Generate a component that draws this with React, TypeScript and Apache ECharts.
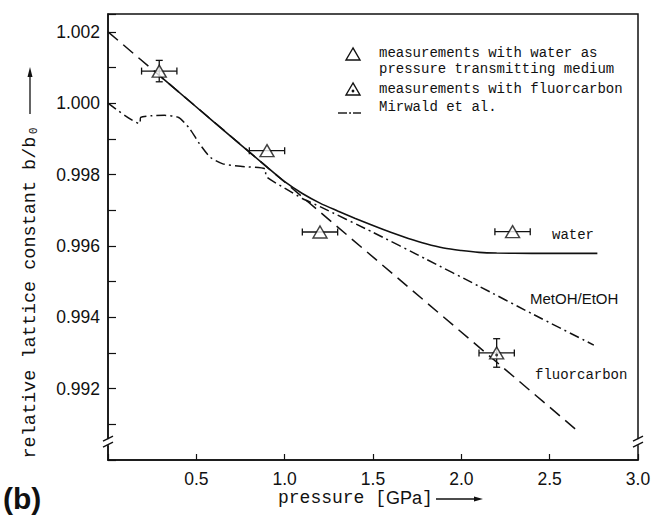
import React, { useEffect, useRef } from 'react';
import * as echarts from 'echarts';

// Fluorcarbon fit (dashed straight line)
const fluorLineX = [0, 2.645];
const fluorLineY = [1.002, 0.99087];

// Water curve (solid)
const waterCurveX = [0.3, 0.6, 0.9, 1.0, 1.1, 1.2, 1.3, 1.4, 1.5, 1.6, 1.7, 1.8, 1.9, 2.0, 2.1, 2.2, 2.4, 2.6, 2.77];
const waterCurveY = [1.00074, 0.99947, 0.99821, 0.9978, 0.99747, 0.9972, 0.99698, 0.99677, 0.99657, 0.99638, 0.99621, 0.99606, 0.99594, 0.99587, 0.99582, 0.9958, 0.99579, 0.99579, 0.99579];

// Mirwald et al. / MetOH-EtOH (dash-dot)
const mirwaldX = [0, 0.18, 0.185, 0.25, 0.32, 0.4, 0.46, 0.52, 0.58, 0.65, 0.75, 0.89, 0.895, 1.0, 1.1, 1.2, 1.5, 1.8, 2.1, 2.4, 2.75];
const mirwaldY = [1.0, 0.99943, 0.9996, 0.99965, 0.99966, 0.9996, 0.9993, 0.99885, 0.99848, 0.9983, 0.99823, 0.99816, 0.99795, 0.99762, 0.99733, 0.9971, 0.99638, 0.99563, 0.99487, 0.9941, 0.99322];

// Measurements with water
const waterPtsX = [0.29, 0.9, 1.2, 2.29];
const waterPtsY = [1.0009, 0.99867, 0.99639, 0.9964];
const waterErrX = [0.1, 0.1, 0.1, 0.1];
const waterErrY = [0.0003, 0, 0, 0];

// Measurements with fluorcarbon
const fluorPtsX = [2.2];
const fluorPtsY = [0.993];
const fluorErrX = [0.1];
const fluorErrY = [0.0004];

const xTicks = [0.5, 1.0, 1.5, 2.0, 2.5, 3.0];

const MONO = '"Liberation Mono", "DejaVu Sans Mono", monospace';
const SANS = '"Liberation Sans", Arial, sans-serif';
const INK = '#111';

export default function App() {
  const ref = useRef<HTMLDivElement>(null);

  useEffect(() => {
    if (!ref.current) return;
    const chart = echarts.init(ref.current, undefined, { renderer: 'svg' });

    const pairs = (xs: number[], ys: number[]) => xs.map((x, i) => [x, ys[i]]);
    const errData = [
      ...waterPtsX.map((x, i) => [x, waterPtsY[i], waterErrX[i], waterErrY[i]]),
      ...fluorPtsX.map((x, i) => [x, fluorPtsY[i], fluorErrX[i], fluorErrY[i]]),
    ];

    chart.setOption({
      animation: false,
      backgroundColor: '#fff',
      grid: { left: 108, right: 16, top: 14, bottom: 56, show: true, borderColor: INK, borderWidth: 1.5, backgroundColor: 'transparent' },
      xAxis: {
        type: 'value', min: 0, max: 3, interval: 0.5,
        axisLine: { lineStyle: { color: INK, width: 1.5 } },
        axisTick: { inside: true, length: 6, lineStyle: { color: INK, width: 1.2 } },
        axisLabel: {
          margin: 10, fontSize: 17.5, fontFamily: SANS, color: INK,
          formatter: (v: number) => (xTicks.some((t) => Math.abs(t - v) < 1e-6) ? v.toFixed(1) : ''),
        },
        splitLine: { show: false },
      },
      yAxis: {
        type: 'value', min: 0.99, max: 1.0025, interval: 0.001,
        axisLine: { lineStyle: { color: INK, width: 1.5 } },
        axisTick: { inside: true, length: 8, lineStyle: { color: INK, width: 1.2 } },
        axisLabel: {
          margin: 8, fontSize: 17.5, fontFamily: SANS, color: INK,
          formatter: (v: number) => {
            const n = Math.round(v * 1000 * 2) / 2;
            if (Number.isInteger(n) && n % 2 === 0 && n >= 992 && n <= 1002) return (n / 1000).toFixed(3);
            return '';
          },
        },
        splitLine: { show: false },
      },
      series: [
        {
          name: 'fluorcarbon', type: 'line', data: pairs(fluorLineX, fluorLineY), symbol: 'none', silent: true, z: 2,
          lineStyle: { color: INK, width: 1.5, type: [13, 7] },
        },
        {
          name: 'water', type: 'line', data: pairs(waterCurveX, waterCurveY), symbol: 'none', silent: true, z: 3,
          smooth: 0.3, lineStyle: { color: INK, width: 1.6, type: 'solid' },
        },
        {
          name: 'Mirwald et al.', type: 'line', data: pairs(mirwaldX, mirwaldY), symbol: 'none', silent: true, z: 2,
          smooth: 0.2, lineStyle: { color: INK, width: 1.5, type: [10, 4, 2, 4] },
        },
        {
          name: 'errors', type: 'custom', data: errData, z: 4, silent: true,
          encode: { x: 0, y: 1 },
          renderItem: (params: any, api: any) => {
            const x = api.value(0), y = api.value(1), ex = api.value(2), ey = api.value(3);
            const st = { stroke: INK, lineWidth: 1.3 };
            const l = api.coord([x - ex, y]);
            const r = api.coord([x + ex, y]);
            const c = 3.5;
            const children: any[] = [
              { type: 'line', shape: { x1: l[0], y1: l[1], x2: r[0], y2: r[1] }, style: st },
              { type: 'line', shape: { x1: l[0], y1: l[1] - c, x2: l[0], y2: l[1] + c }, style: st },
              { type: 'line', shape: { x1: r[0], y1: r[1] - c, x2: r[0], y2: r[1] + c }, style: st },
            ];
            if (ey > 0) {
              const t = api.coord([x, y + ey]);
              const b = api.coord([x, y - ey]);
              children.push(
                { type: 'line', shape: { x1: t[0], y1: t[1], x2: b[0], y2: b[1] }, style: st },
                { type: 'line', shape: { x1: t[0] - c, y1: t[1], x2: t[0] + c, y2: t[1] }, style: st },
                { type: 'line', shape: { x1: b[0] - c, y1: b[1], x2: b[0] + c, y2: b[1] }, style: st },
              );
            }
            return { type: 'group', children };
          },
        },
        {
          name: 'water points', type: 'scatter', data: pairs(waterPtsX, waterPtsY), symbol: 'triangle', symbolSize: [14, 12], z: 5, silent: true,
          itemStyle: { color: '#fff', borderColor: INK, borderWidth: 1.4 },
        },
        {
          name: 'fluor points', type: 'scatter', data: pairs(fluorPtsX, fluorPtsY), symbol: 'triangle', symbolSize: [14, 12], z: 5, silent: true,
          itemStyle: { color: '#fff', borderColor: INK, borderWidth: 1.4 },
        },
        {
          name: 'fluor dot', type: 'scatter', data: pairs(fluorPtsX, fluorPtsY), symbol: 'circle', symbolSize: 3, symbolOffset: [0, 2], z: 6, silent: true,
          itemStyle: { color: INK },
        },
      ],
    });

    const pL = chart.convertToPixel({ gridIndex: 0 }, [0, 0.9905]) as number[];
    const pR = chart.convertToPixel({ gridIndex: 0 }, [3, 0.9905]) as number[];
    const brk = (p: number[]) => [
      { type: 'rect', shape: { x: p[0] - 3, y: p[1] - 3, width: 6, height: 6 }, style: { fill: '#fff' }, z: 100 },
      { type: 'line', shape: { x1: p[0] - 5, y1: p[1] - 1, x2: p[0] + 5, y2: p[1] - 6 }, style: { stroke: INK, lineWidth: 1.3 }, z: 101 },
      { type: 'line', shape: { x1: p[0] - 5, y1: p[1] + 5, x2: p[0] + 5, y2: p[1] }, style: { stroke: INK, lineWidth: 1.3 }, z: 101 },
    ];

    const tri = (cx: number, cy: number) => ({
      type: 'polygon', shape: { points: [[cx, cy - 6], [cx - 7, cy + 6], [cx + 7, cy + 6]] },
      style: { fill: '#fff', stroke: INK, lineWidth: 1.4 }, z: 100,
    });

    chart.setOption({
      graphic: [
        ...brk(pL),
        ...brk(pR),
        // y axis title
        {
          type: 'text', x: 30, y: 292, rotation: Math.PI / 2, z: 100,
          style: { text: 'relative lattice constant b/b₀', fontSize: 18.5, fontFamily: MONO, fill: INK, align: 'center', verticalAlign: 'middle' },
        },
        { type: 'line', shape: { x1: 30, y1: 114, x2: 30, y2: 74 }, style: { stroke: INK, lineWidth: 1.3 }, z: 100 },
        { type: 'polygon', shape: { points: [[30, 67], [27.5, 77], [32.5, 77]] }, style: { fill: INK }, z: 100 },
        // x axis title
        {
          type: 'text', x: 278, y: 498, z: 100,
          style: {
            text: '{m|pressure [}{s|GPa}{m|]}',
            align: 'left', verticalAlign: 'middle',
            rich: {
              m: { fontSize: 18, fontFamily: MONO, fill: INK, color: INK },
              s: { fontSize: 18, fontFamily: SANS, fill: INK, color: INK },
            },
          },
        },
        { type: 'line', shape: { x1: 436, y1: 499, x2: 476, y2: 499 }, style: { stroke: INK, lineWidth: 1.3 }, z: 100 },
        { type: 'polygon', shape: { points: [[483, 499], [474, 496.5], [474, 501.5]] }, style: { fill: INK }, z: 100 },
        // panel label
        {
          type: 'text', x: 3, y: 498, z: 100,
          style: { text: '(b)', fontSize: 30, fontWeight: 'bold', fontFamily: SANS, fill: INK, align: 'left', verticalAlign: 'middle' },
        },
        // legend
        tri(353, 54),
        { type: 'text', x: 379, y: 53, z: 100, style: { text: 'measurements with water as', fontSize: 14, fontFamily: MONO, fill: INK, verticalAlign: 'middle' } },
        { type: 'text', x: 379, y: 69, z: 100, style: { text: 'pressure transmitting medium', fontSize: 14, fontFamily: MONO, fill: INK, verticalAlign: 'middle' } },
        tri(353, 89),
        { type: 'circle', shape: { cx: 353, cy: 91, r: 1.4 }, style: { fill: INK }, z: 101 },
        { type: 'text', x: 379, y: 89, z: 100, style: { text: 'measurements with fluorcarbon', fontSize: 14, fontFamily: MONO, fill: INK, verticalAlign: 'middle' } },
        { type: 'line', shape: { x1: 338, y1: 113, x2: 347, y2: 113 }, style: { stroke: INK, lineWidth: 1.4 }, z: 100 },
        { type: 'circle', shape: { cx: 350, cy: 113, r: 0.9 }, style: { fill: INK }, z: 100 },
        { type: 'line', shape: { x1: 353, y1: 113, x2: 361, y2: 113 }, style: { stroke: INK, lineWidth: 1.4 }, z: 100 },
        { type: 'text', x: 379, y: 107, z: 100, style: { text: 'Mirwald et al.', fontSize: 14, fontFamily: MONO, fill: INK, verticalAlign: 'middle' } },
        // curve labels
        { type: 'text', x: 552, y: 235, z: 100, style: { text: 'water', fontSize: 14, fontFamily: MONO, fill: INK, verticalAlign: 'middle' } },
        { type: 'text', x: 530, y: 298, z: 100, style: { text: 'MetOH/EtOH', fontSize: 15, fontFamily: SANS, fill: INK, verticalAlign: 'middle' } },
        { type: 'text', x: 535, y: 375, z: 100, style: { text: 'fluorcarbon', fontSize: 14, fontFamily: MONO, fill: INK, verticalAlign: 'middle' } },
      ],
    });

    return () => chart.dispose();
  }, []);

  return (
    <div
      ref={ref}
      style={{ position: 'fixed', left: 0, top: 0, width: 654, height: 516, background: '#fff' }}
    />
  );
}
